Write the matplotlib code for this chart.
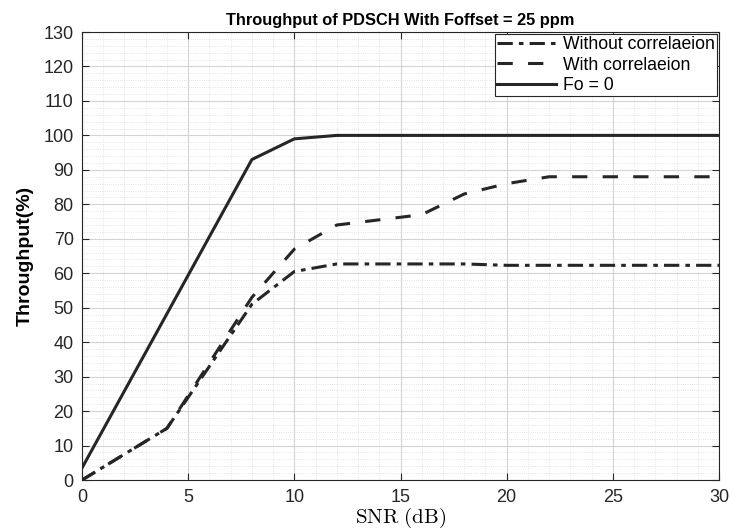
import matplotlib
matplotlib.use("Agg")
import matplotlib.pyplot as plt
from matplotlib.ticker import MultipleLocator

plt.rcParams['font.family'] = ['Liberation Sans', 'DejaVu Sans']
plt.rcParams['mathtext.fontset'] = 'cm'

# valores
snr_sin = [0, 4, 8, 10, 12, 14, 16, 18, 20, 22, 24, 26, 28, 30]
thr_sin = [0, 15, 51, 60.5, 62.7, 62.7, 62.7, 62.7, 62.3, 62.3, 62.3, 62.3, 62.3, 62.3]

snr_con = [0, 4, 8, 10, 12, 14, 16, 18, 20, 22, 24, 26, 28, 30]
thr_con = [0, 15, 53, 67, 74, 75.5, 77, 83, 86, 88, 88, 88, 88, 88]

snr_fo = [0, 8, 10, 12, 14, 16, 18, 20, 22, 24, 26, 28, 30]
thr_fo = [3.5, 93, 99, 100, 100, 100, 100, 100, 100, 100, 100, 100, 100]

etiquetas = ["Without correlaeion", "With correlaeion", "Fo = 0"]

color = "#262626"

fig = plt.figure(figsize=(7.31, 5.30), dpi=100)
ax = fig.add_axes([0.1122, 0.0943, 0.8714, 0.8453])

ax.plot(snr_sin, thr_sin, color=color, lw=2.2, linestyle=(0, (5, 2, 1.5, 2)), label=etiquetas[0])
ax.plot(snr_con, thr_con, color=color, lw=2.2, linestyle=(0, (5, 5)), label=etiquetas[1])
ax.plot(snr_fo, thr_fo, color=color, lw=2.2, linestyle="-", label=etiquetas[2])

ax.set_xlim(0, 30)
ax.set_ylim(0, 130)
ax.xaxis.set_major_locator(MultipleLocator(5))
ax.xaxis.set_minor_locator(MultipleLocator(1))
ax.yaxis.set_major_locator(MultipleLocator(10))
ax.yaxis.set_minor_locator(MultipleLocator(2))

# rejilla estilo MATLAB
ax.grid(which="major", color="#d4d4d4", lw=0.8, linestyle="-")
ax.grid(which="minor", color="#dcdcdc", lw=0.6, linestyle=":")
ax.set_axisbelow(True)

ax.tick_params(which="both", direction="in", top=True, right=True, colors="#262626",
               labelsize=13)
ax.tick_params(axis="x", which="major", pad=6.5)
ax.tick_params(axis="y", which="major", pad=6)
ax.tick_params(which="major", length=5, width=0.8)
ax.tick_params(which="minor", length=0)
for s in ax.spines.values():
    s.set_color("#262626")
    s.set_linewidth(0.8)

ax.set_title("Throughput of PDSCH With Foffset = 25 ppm", fontsize=11.8, fontweight="bold", pad=5)
ax.set_ylabel("Throughput(%)", fontsize=14, fontweight="bold", labelpad=7)
ax.set_xlabel(r"$\mathrm{SNR\ (dB)}$", fontsize=15, labelpad=0)

leg = ax.legend(loc="upper right", fontsize=12.7, handlelength=3.3, frameon=True, fancybox=False,
                borderaxespad=0.1, borderpad=0.15, labelspacing=0.18, handletextpad=0.4)
leg.get_frame().set_edgecolor("#262626")
leg.get_frame().set_linewidth(0.8)
leg.get_frame().set_alpha(1)

plt.savefig("out.png", dpi=100)
